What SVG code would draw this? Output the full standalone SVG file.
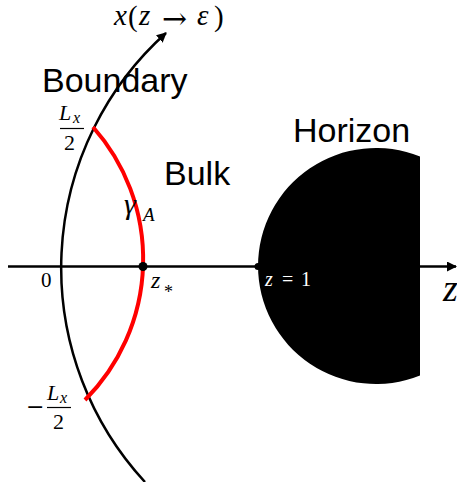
<svg xmlns="http://www.w3.org/2000/svg" width="457" height="482" viewBox="0 0 457 482">
<style>
.lbl{font-family:"Liberation Sans",Arial,sans-serif;font-size:34px;fill:#000}
.m{font-family:"Liberation Serif","Times New Roman",serif;fill:#000}
.i{font-style:italic}
.ln{fill:none;stroke:#000;stroke-width:2.5}
</style>
<defs>
<marker id="ah" markerWidth="10" markerHeight="10" refX="9" refY="5" orient="auto" markerUnits="userSpaceOnUse">
<path d="M0,0 L10,5 L0,10 Z" fill="#000"/>
</marker>
</defs>
<rect width="457" height="482" fill="#fff"/>
<g id="connectors">
<line id="z-axis" class="ln" x1="8" y1="266.5" x2="456" y2="266.5" marker-end="url(#ah)"/>
<path id="boundary-line" class="ln" d="M145,482 A315.5,315.5 0 0 1 166,33" marker-end="url(#ah)"/>
</g>
<g id="horizon">
<path d="M420,156.5 A118,118 0 1 0 420,375.5 Z" fill="#000"/>
<circle cx="258" cy="266.5" r="3.5" fill="#000"/>
<text class="m i" x="265" y="286" font-size="20" style="fill:#fff">z</text>
<text class="m" x="282" y="286" font-size="20" style="fill:#fff">=</text>
<text class="m" x="301" y="286" font-size="20" style="fill:#fff">1</text>
<text class="lbl" x="293" y="142">Horizon</text>
</g>
<g id="gamma-A">
<path d="M93,127 A199.4,199.4 0 0 1 85,400" fill="none" stroke="#ff0000" stroke-width="4"/>
<circle cx="143" cy="266.5" r="4.5" fill="#000"/>
<text class="m i" x="124" y="214" font-size="30">γ</text>
<text class="m i" x="143" y="221" font-size="19">A</text>
<text class="m i" x="151" y="288" font-size="24">z</text>
<text class="m" x="164" y="298" font-size="18">*</text>
</g>
<g id="boundary">
<text class="lbl" x="42" y="92">Boundary</text>
<text class="m i" x="114" y="25" font-size="29">x</text>
<text class="m" x="128" y="26" font-size="29">(</text>
<text class="m i" x="139" y="25" font-size="29">z</text>
<text x="162" y="29" font-size="30" style="font-family:'DejaVu Serif',serif">→</text>
<text class="m i" x="197" y="25" font-size="29">ε</text>
<text class="m" x="214" y="26" font-size="29">)</text>
<text class="m i" x="59" y="120" font-size="22">L</text>
<text class="m i" x="73" y="123" font-size="16">x</text>
<line x1="60" y1="128.5" x2="84" y2="128.5" stroke="#000" stroke-width="1.2"/>
<text class="m" x="64" y="150" font-size="22">2</text>
<text x="26" y="414" font-size="22" style="font-family:'DejaVu Sans',sans-serif">−</text>
<text class="m i" x="47" y="400" font-size="22">L</text>
<text class="m i" x="60" y="403" font-size="16">x</text>
<line x1="47" y1="407.5" x2="71" y2="407.5" stroke="#000" stroke-width="1.2"/>
<text class="m" x="53" y="429" font-size="22">2</text>
</g>
<g id="bulk">
<text class="lbl" x="164" y="185">Bulk</text>
</g>
<g id="origin">
<text class="m" x="41" y="287" font-size="21">0</text>
</g>
<g id="z-label">
<text class="m i" x="443" y="301" font-size="38">z</text>
</g>
</svg>
